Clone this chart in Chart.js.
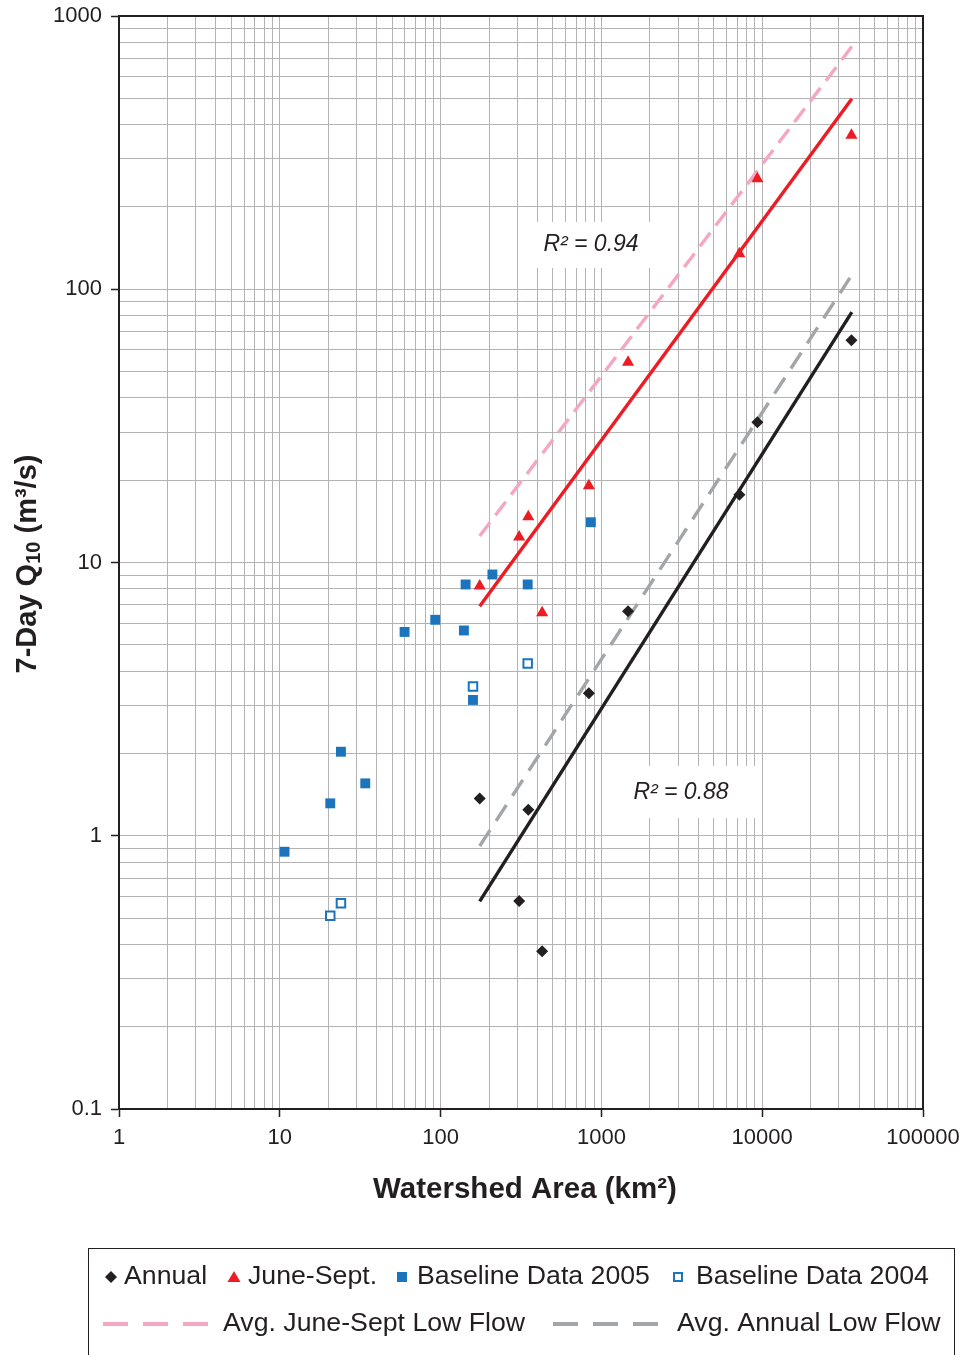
<!DOCTYPE html>
<html><head><meta charset="utf-8">
<script src="https://cdn.jsdelivr.net/npm/chart.js@4.4.1/dist/chart.umd.min.js"></script>
<style>html,body{margin:0;padding:0;background:#fff;}canvas{display:block;}</style>
</head><body>
<canvas id="c" width="966" height="1355"></canvas>
<script>
// ---- data ----
const stationArea = [175, 308, 351, 428, 836, 1465, 7210, 9330, 35900];
const annualQ     = [1.37, 0.577, 1.245, 0.378, 3.32, 6.63, 17.7, 32.6, 65.0];
const juneSeptQ   = [8.2, 12.4, 14.7, 6.55, 19.1, 54.0, 135, 254, 366];
const baseline2005Area = [10.7, 20.6, 24.0, 34.0, 59.7, 92.6, 139.6, 143, 210, 348, 159, 860];
const baseline2005Q    = [0.874, 1.314, 2.03, 1.555, 5.57, 6.17, 5.64, 8.31, 9.04, 8.31, 3.14, 14.04];
const baseline2004Area = [20.6, 24.0, 159, 348];
const baseline2004Q    = [0.510, 0.566, 3.52, 4.27];
const juneFitArea   = [175, 36100];
const juneFitQ      = [6.92, 498];
const juneAvgArea   = [175, 36100];
const juneAvgQ      = [12.5, 773];
const annualFitArea = [175, 36100];
const annualFitQ    = [0.575, 82.5];
const annualAvgArea = [175, 35100];
const annualAvgQ    = [0.917, 110];
const xTickValues = [1, 10, 100, 1000, 10000, 100000];
const xTickLabels = ['1', '10', '100', '1000', '10000', '100000'];
const yTickValues = [0.1, 1, 10, 100, 1000];
const yTickLabels = ['0.1', '1', '10', '100', '1000'];
const r2Labels = ['R\u00B2 = 0.94', 'R\u00B2 = 0.88'];
const seriesNames = ['Annual', 'June-Sept.', 'Baseline Data 2005', 'Baseline Data 2004',
                     'Avg. June-Sept Low Flow', 'Avg. Annual Low Flow'];
const xTitle = 'Watershed Area (km\u00B2)';
const yTitleParts = ['7-Day Q', '10', ' (m\u00B3/s)'];

// ---- styling ----
const FONT = "'Liberation Sans', Arial, Helvetica, sans-serif";
const INK = '#231f20';
const RED = '#ed1c24', PINK = '#f4a6c2', GRAY = '#a3a6a9', BLUE = '#1c75bc', GRID = '#b3b3b3';

const pts = (xs, ys) => xs.map((x, i) => ({x, y: ys[i]}));
function logTicks(lo, hi) {
  const t = [];
  for (let e = Math.round(Math.log10(lo)); e < Math.round(Math.log10(hi)); e++) {
    for (let m = 1; m <= 9; m++) {
      const v = parseFloat((m * Math.pow(10, e)).toPrecision(6));
      t.push({value: v, major: m === 1});
    }
  }
  t.push({value: hi, major: true});
  return t;
}
function labelOf(v, vals, labs) {
  for (let i = 0; i < vals.length; i++) if (Math.abs(Math.log10(v) - Math.log10(vals[i])) < 1e-6) return labs[i];
  return '';
}

const overlay = {
  id: 'overlay',
  beforeDatasetsDraw(chart) {
    const ctx = chart.ctx;
    ctx.save();
    ctx.fillStyle = '#fff';
    ctx.fillRect(530, 222, 122, 46);
    ctx.fillRect(617, 766, 138, 52);
    ctx.fillStyle = INK;
    ctx.font = 'italic 23px ' + FONT;
    ctx.textAlign = 'center'; ctx.textBaseline = 'middle';
    ctx.fillText(r2Labels[0], 591, 245);
    ctx.fillText(r2Labels[1], 681, 793);
    ctx.restore();
  },
  afterDraw(chart) {
    const ctx = chart.ctx, a = chart.chartArea;
    ctx.save();
    ctx.strokeStyle = INK; ctx.lineWidth = 2;
    ctx.strokeRect(a.left, a.top, a.right - a.left, a.bottom - a.top);
    ctx.fillStyle = INK;
    ctx.font = 'bold 29.5px ' + FONT;
    ctx.textAlign = 'center'; ctx.textBaseline = 'middle';
    ctx.fillText(xTitle, 525, 1190);
    ctx.translate(28, 564);
    ctx.rotate(-Math.PI / 2);
    ctx.textAlign = 'left'; ctx.textBaseline = 'middle';
    const big = 'bold 29px ' + FONT, small = 'bold 20px ' + FONT;
    ctx.font = big; const w1 = ctx.measureText(yTitleParts[0]).width;
    ctx.font = small; const w2 = ctx.measureText(yTitleParts[1]).width;
    ctx.font = big; const w3 = ctx.measureText(yTitleParts[2]).width;
    let x0 = -(w1 + w2 + w3) / 2;
    ctx.font = big; ctx.fillText(yTitleParts[0], x0, 0);
    ctx.font = small; ctx.fillText(yTitleParts[1], x0 + w1, 6);
    ctx.font = big; ctx.fillText(yTitleParts[2], x0 + w1 + w2, 0);
    ctx.restore();

    // legend
    ctx.save();
    ctx.strokeStyle = INK; ctx.lineWidth = 1;
    ctx.strokeRect(88.5, 1248.5, 866, 130);
    const r1 = 1277, r2 = 1324;
    ctx.fillStyle = INK;
    ctx.beginPath(); ctx.moveTo(111, r1 - 6); ctx.lineTo(117, r1); ctx.lineTo(111, r1 + 6); ctx.lineTo(105, r1); ctx.closePath(); ctx.fill();
    ctx.fillStyle = RED;
    ctx.beginPath(); ctx.moveTo(234, r1 - 6); ctx.lineTo(240.5, r1 + 5); ctx.lineTo(227.5, r1 + 5); ctx.closePath(); ctx.fill();
    ctx.fillStyle = BLUE; ctx.fillRect(397, r1 - 5, 10, 10);
    ctx.strokeStyle = BLUE; ctx.lineWidth = 2; ctx.strokeRect(674, r1 - 4, 8, 8);
    ctx.lineWidth = 4;
    ctx.setLineDash([25, 15]);
    ctx.strokeStyle = PINK;
    ctx.beginPath(); ctx.moveTo(103, r2); ctx.lineTo(210, r2); ctx.stroke();
    ctx.strokeStyle = GRAY;
    ctx.beginPath(); ctx.moveTo(553, r2); ctx.lineTo(660, r2); ctx.stroke();
    ctx.setLineDash([]);
    ctx.fillStyle = INK;
    ctx.font = '26.7px ' + FONT;
    ctx.textAlign = 'left'; ctx.textBaseline = 'middle';
    ctx.fillText(seriesNames[0], 124, r1);
    ctx.fillText(seriesNames[1], 248, r1);
    ctx.fillText(seriesNames[2], 417, r1);
    ctx.fillText(seriesNames[3], 696, r1);
    ctx.fillText(seriesNames[4], 223, r2);
    ctx.fillText(seriesNames[5], 677, r2);
    ctx.restore();
  }
};

const tickColor = (c) => (c.tick && c.tick.major) ? INK : 'rgba(0,0,0,0)';

new Chart(document.getElementById('c'), {
  type: 'scatter',
  data: {
    datasets: [
      {label: seriesNames[0], data: pts(stationArea, annualQ), pointStyle: 'rectRot', pointRadius: 6,
       backgroundColor: INK, borderColor: INK, borderWidth: 0, showLine: false},
      {label: seriesNames[1], data: pts(stationArea, juneSeptQ), pointStyle: 'triangle', pointRadius: 7,
       backgroundColor: RED, borderColor: RED, borderWidth: 0, showLine: false},
      {label: seriesNames[2], data: pts(baseline2005Area, baseline2005Q), pointStyle: 'rect', pointRadius: 7,
       backgroundColor: BLUE, borderColor: BLUE, borderWidth: 0, showLine: false},
      {label: seriesNames[3], data: pts(baseline2004Area, baseline2004Q), pointStyle: 'rect', pointRadius: 6,
       backgroundColor: '#fff', borderColor: BLUE, borderWidth: 2, showLine: false},
      {label: 'June fit', data: pts(juneFitArea, juneFitQ), showLine: true, pointRadius: 0,
       borderColor: RED, borderWidth: 3.4, fill: false},
      {label: seriesNames[4], data: pts(juneAvgArea, juneAvgQ), showLine: true, pointRadius: 0,
       borderColor: PINK, borderWidth: 3.4, borderDash: [17, 9], fill: false},
      {label: 'Annual fit', data: pts(annualFitArea, annualFitQ), showLine: true, pointRadius: 0,
       borderColor: INK, borderWidth: 3.4, fill: false},
      {label: seriesNames[5], data: pts(annualAvgArea, annualAvgQ), showLine: true, pointRadius: 0,
       borderColor: GRAY, borderWidth: 3.4, borderDash: [19, 11], fill: false}
    ]
  },
  options: {
    responsive: false, animation: false, devicePixelRatio: 1, events: [],
    layout: {padding: {top: 16, right: 43, left: 0, bottom: 0}},
    plugins: {legend: {display: false}, tooltip: {enabled: false}, title: {display: false}},
    scales: {
      x: {
        type: 'logarithmic', position: 'bottom', min: 1, max: 100000,
        afterBuildTicks: (s) => { s.ticks = logTicks(1, 100000); },
        afterFit: (s) => { s.height = 246; s.paddingLeft = 0; s.paddingRight = 0; s.paddingTop = 0; s.paddingBottom = 0; },
        grid: {color: GRID, lineWidth: 1, tickLength: 8, tickColor: tickColor, tickWidth: 1.5},
        border: {display: true, color: INK, width: 2},
        ticks: {autoSkip: false, maxRotation: 0, minRotation: 0, padding: 8, color: INK,
                font: {family: FONT, size: 22}, callback: (v) => labelOf(v, xTickValues, xTickLabels)}
      },
      y: {
        type: 'logarithmic', position: 'left', min: 0.1, max: 1000,
        afterBuildTicks: (s) => { s.ticks = logTicks(0.1, 1000); },
        afterFit: (s) => { s.width = 119; s.paddingTop = 0; s.paddingBottom = 0; s.paddingLeft = 0; s.paddingRight = 0; },
        grid: {color: GRID, lineWidth: 1, tickLength: 8, tickColor: tickColor, tickWidth: 1.5},
        border: {display: true, color: INK, width: 2},
        ticks: {autoSkip: false, padding: 9, color: INK,
                font: {family: FONT, size: 22}, callback: (v) => labelOf(v, yTickValues, yTickLabels)}
      }
    }
  },
  plugins: [overlay]
});
</script>
</body></html>
